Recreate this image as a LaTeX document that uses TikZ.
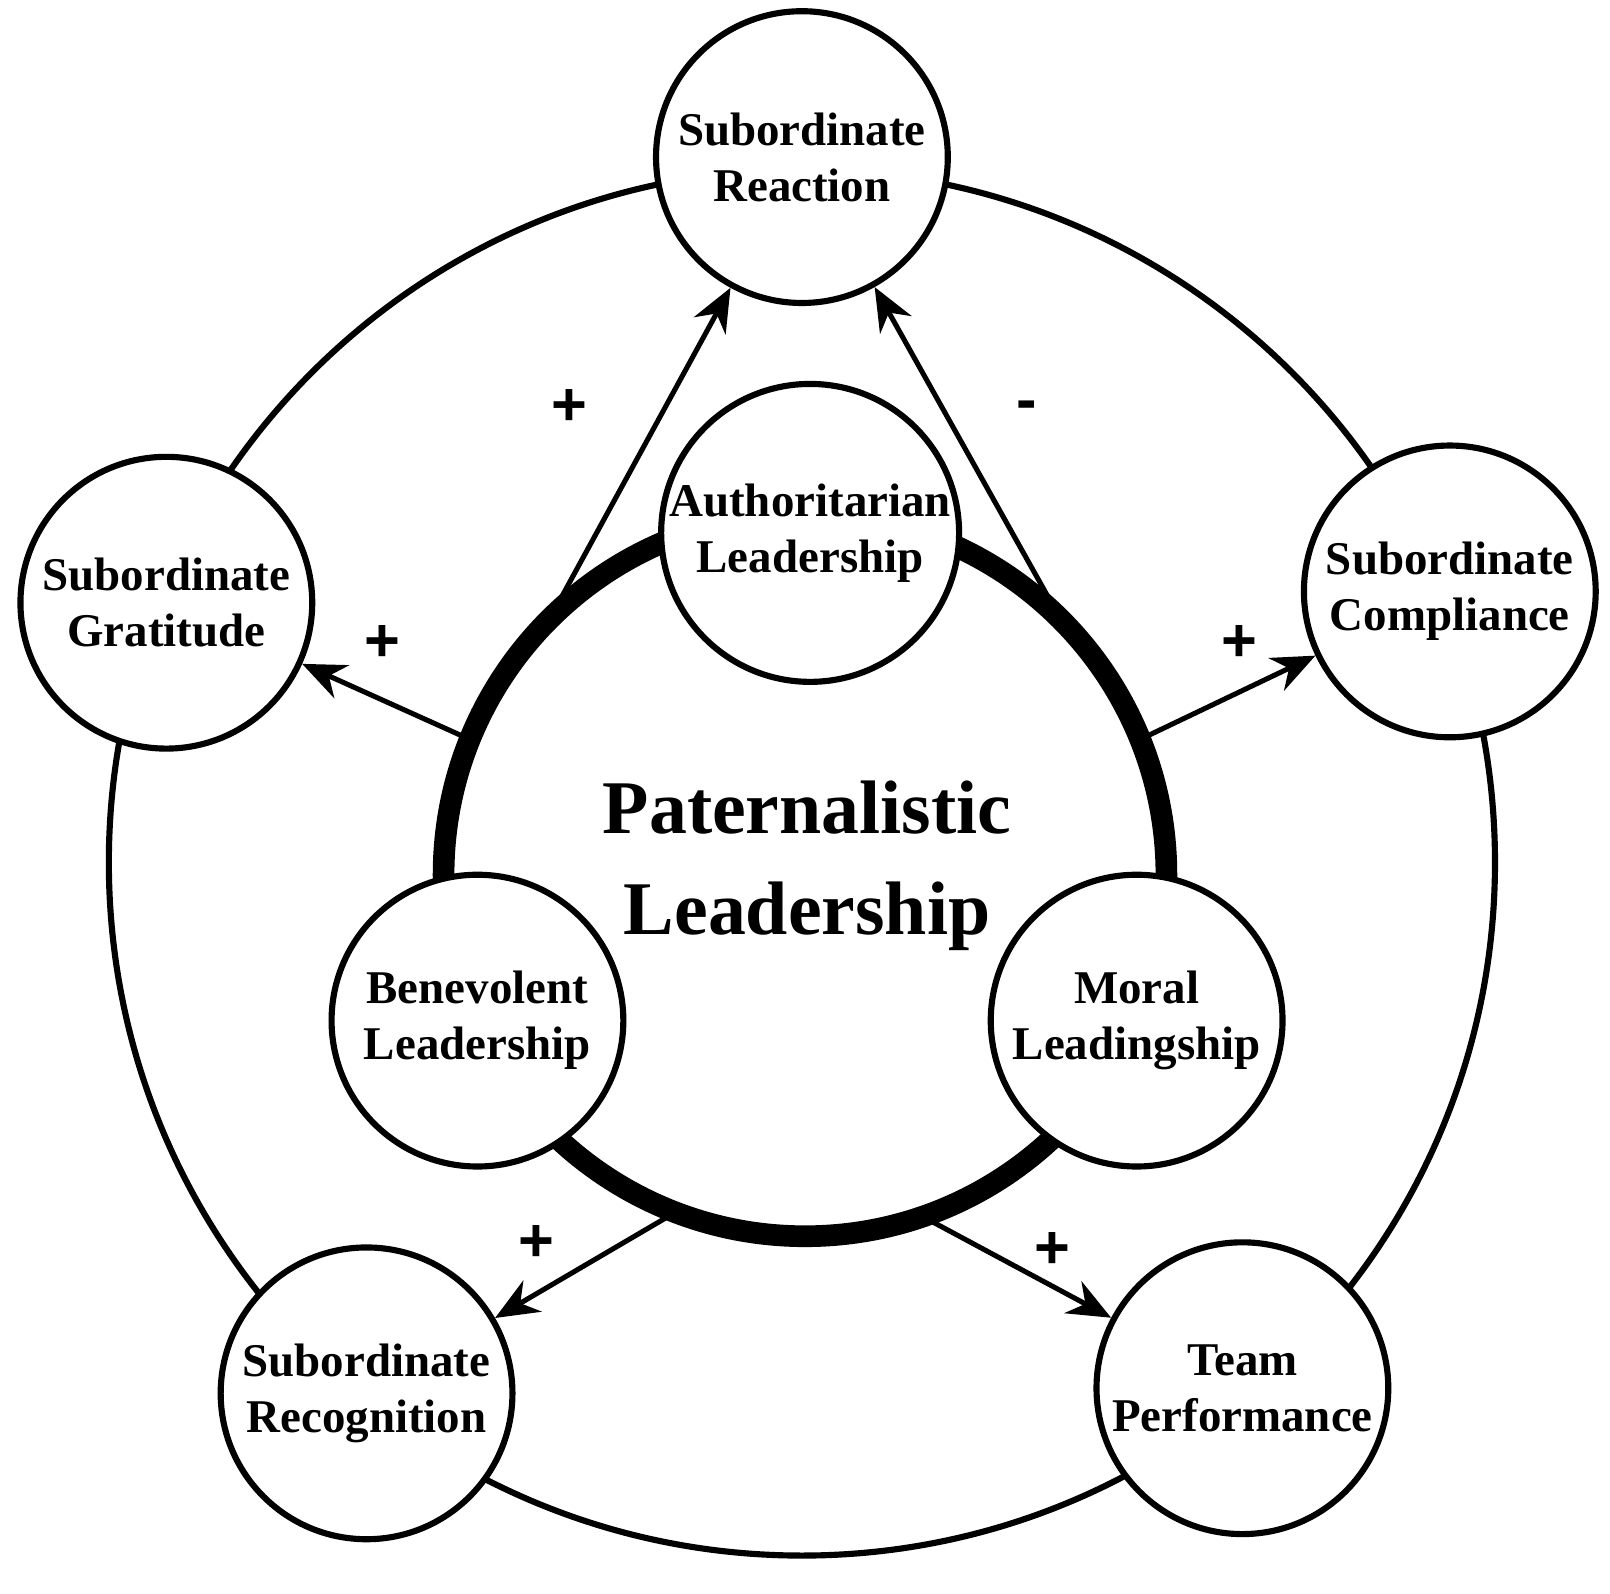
\documentclass[tikz,border=0pt]{standalone}
\usepackage{fontspec}
\setmainfont{Liberation Serif}
\newfontfamily\plusfont{Liberation Sans}
\usetikzlibrary{arrows.meta,calc}
\begin{document}
\begin{tikzpicture}[x=0.01cm,y=-0.01cm,
  bub/.style={circle,draw,line width=1.7pt,fill=white,minimum size=2.84cm,inner sep=0pt,align=center,font=\fontsize{13}{15.5}\selectfont\bfseries},
  arr/.style={line width=1.4pt,-{Stealth[length=12pt,width=10pt]}},
  sign/.style={font=\plusfont\fontsize{17}{17}\selectfont\bfseries}]
\useasboundingbox (0,0) rectangle (1568,1552);
\coordinate (oc) at (781,840);
\draw[line width=1.7pt] (oc) circle (675);
\coordinate (c) at (784,852);
\draw[line width=6pt] (c) circle (352);
% start points on thick circle
\coordinate (s1) at ($(c)+(-135:352)$);
\coordinate (s2) at ($(c)+(-158:352)$);
\coordinate (s3) at ($(c)+(-45:352)$);
\coordinate (s4) at ($(c)+(-22:352)$);
\coordinate (s5) at ($(c)+(111:352)$);
\coordinate (s6) at ($(c)+(71:352)$);
% outer bubbles
\node[bub] (re) at (781,153) {Subordinate\\Reaction};
\node[bub] (gr) at (162,587) {Subordinate\\Gratitude};
\node[bub] (co) at (1412,576) {Subordinate\\Compliance};
\node[bub] (rc) at (357,1357) {Subordinate\\Recognition};
\node[bub] (tp) at (1210,1352) {Team\\Performance};
% inner bubbles
\node[bub] (au) at (789,519) {Authoritarian\\Leadership};
\node[bub] (be) at (465,994) {Benevolent\\Leadership};
\node[bub] (mo) at (1107,994) {Moral\\Leadingship};
\node[font=\fontsize{21}{28}\selectfont\bfseries,align=center] (pl) at (786,843) {Paternalistic\\Leadership};
% arrows
\draw[arr] (s1) -- (re);
\draw[arr] (s2) -- (gr);
\draw[arr] (s3) -- (re);
\draw[arr] (s4) -- (co);
\draw[arr] (s5) -- (rc);
\draw[arr] (s6) -- (tp);
\node[sign] (p1) at (555,397) {+};
\node[sign] (p2) at (372,627) {+};
\node[sign] (m1) at (1000,400) {-};
\node[sign] (p3) at (1207,627) {+};
\node[sign] (p4) at (522,1211) {+};
\node[sign] (p5) at (1025,1218) {+};
\end{tikzpicture}
\end{document}
